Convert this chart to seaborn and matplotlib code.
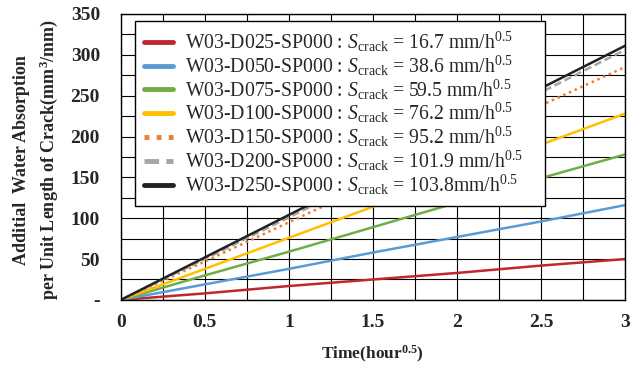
import numpy as np
import pandas as pd
import matplotlib
matplotlib.use("Agg")
import matplotlib.pyplot as plt
import seaborn as sns

t = [0, 0.5, 1, 1.5, 2, 2.5, 3]
red = [0, 8, 17, 25, 33, 42, 50]
blue = [0, 19, 38, 58, 77, 96, 116]
green = [0, 30, 59, 89, 119, 149, 178]
yellow = [0, 38, 76, 114, 152, 190, 228]
orange = [0, 47, 95, 143, 190, 238, 285]
gray = [0, 50, 101, 152, 203, 254, 306]
black = [0, 52, 104, 156, 207, 259, 311]

names = ["W03-D025-SP000", "W03-D050-SP000", "W03-D075-SP000", "W03-D100-SP000",
         "W03-D150-SP000", "W03-D200-SP000", "W03-D250-SP000"]
s_crack = ["16.7 mm/h", "38.6 mm/h", "59.5 mm/h", "76.2 mm/h",
           "95.2 mm/h", "101.9 mm/h", "103.8mm/h"]
series = [red, blue, green, yellow, orange, gray, black]
colors = ["#c0272d", "#5b9bd5", "#70ad47", "#ffc000", "#ed7d31", "#a5a5a5", "#222222"]
styles = ["-", "-", "-", "-", (0, (1, 1.5)), (0, (3, 1.5)), "-"]

yticks = [0, 50, 100, 150, 200, 250, 300, 350]
ylabels = ["-", "50", "100", "150", "200", "250", "300", "350"]
xticks = [0, 0.5, 1, 1.5, 2, 2.5, 3]
xlabels = ["0", "0.5", "1", "1.5", "2", "2.5", "3"]

sns.set_style("white")
plt.rcParams["font.family"] = ["Liberation Serif", "DejaVu Serif"]
plt.rcParams["mathtext.fontset"] = "custom"
plt.rcParams["mathtext.rm"] = "Liberation Serif"
plt.rcParams["mathtext.it"] = "Liberation Serif:italic"
plt.rcParams["mathtext.bf"] = "Liberation Serif:bold"

fig = plt.figure(figsize=(6.39, 3.68), dpi=100)
ax = fig.add_axes([0.189, 0.185, 0.789, 0.777])

for i in range(len(series)):
    df = pd.DataFrame({"t": t, "v": series[i]})
    lab = names[i] + r" : $S_{\rm crack}$ = " + s_crack[i] + r"$^{0.5}$"
    sns.lineplot(data=df, x="t", y="v", ax=ax, color=colors[i], linestyle=styles[i],
                 linewidth=1.8, label=lab)

ax.set_xlim(0, 3)
ax.set_ylim(0, 350)
ax.set_xticks(np.arange(0, 3.01, 0.25), minor=True)
ax.set_yticks(np.arange(0, 351, 25), minor=True)
ax.set_xticks(xticks)
ax.set_xticklabels(xlabels, fontweight="bold", fontsize=14)
ax.set_yticks(yticks)
ax.set_yticklabels(ylabels, fontweight="bold", fontsize=14)
ax.tick_params(which="both", length=0)
ax.tick_params(axis="x", which="major", pad=10)
ax.tick_params(axis="y", which="major", pad=15)
ax.grid(which="both", color="black", linewidth=0.8)
for sp in ax.spines.values():
    sp.set_color("black")
    sp.set_linewidth(1)

ax.set_xlabel(r"Time(hour$^{\mathbf{0.5}}$)", fontweight="bold", fontsize=12.5)
ax.xaxis.set_label_coords(0.5, -0.155)
ax.set_ylabel("Additial  Water Absorption\nper Unit Length of Crack(mm$^{\\mathbf{3}}$/mm)",
              fontweight="bold", fontsize=13, linespacing=1.5)
ax.yaxis.set_label_coords(-0.12, 0.49)

leg = ax.legend(loc="upper left", bbox_to_anchor=(0.028, 0.976, 0.813, 0.0), mode="expand",
                borderaxespad=0, fontsize=14.2, frameon=True, fancybox=False, framealpha=1,
                handlelength=1.5, labelspacing=-0.02, borderpad=0.45, handletextpad=0.6)
leg.get_frame().set_edgecolor("black")
leg.get_frame().set_linewidth(1)
for line in leg.get_lines():
    line.set_linewidth(3.5)

plt.savefig("out.png", dpi=100)
